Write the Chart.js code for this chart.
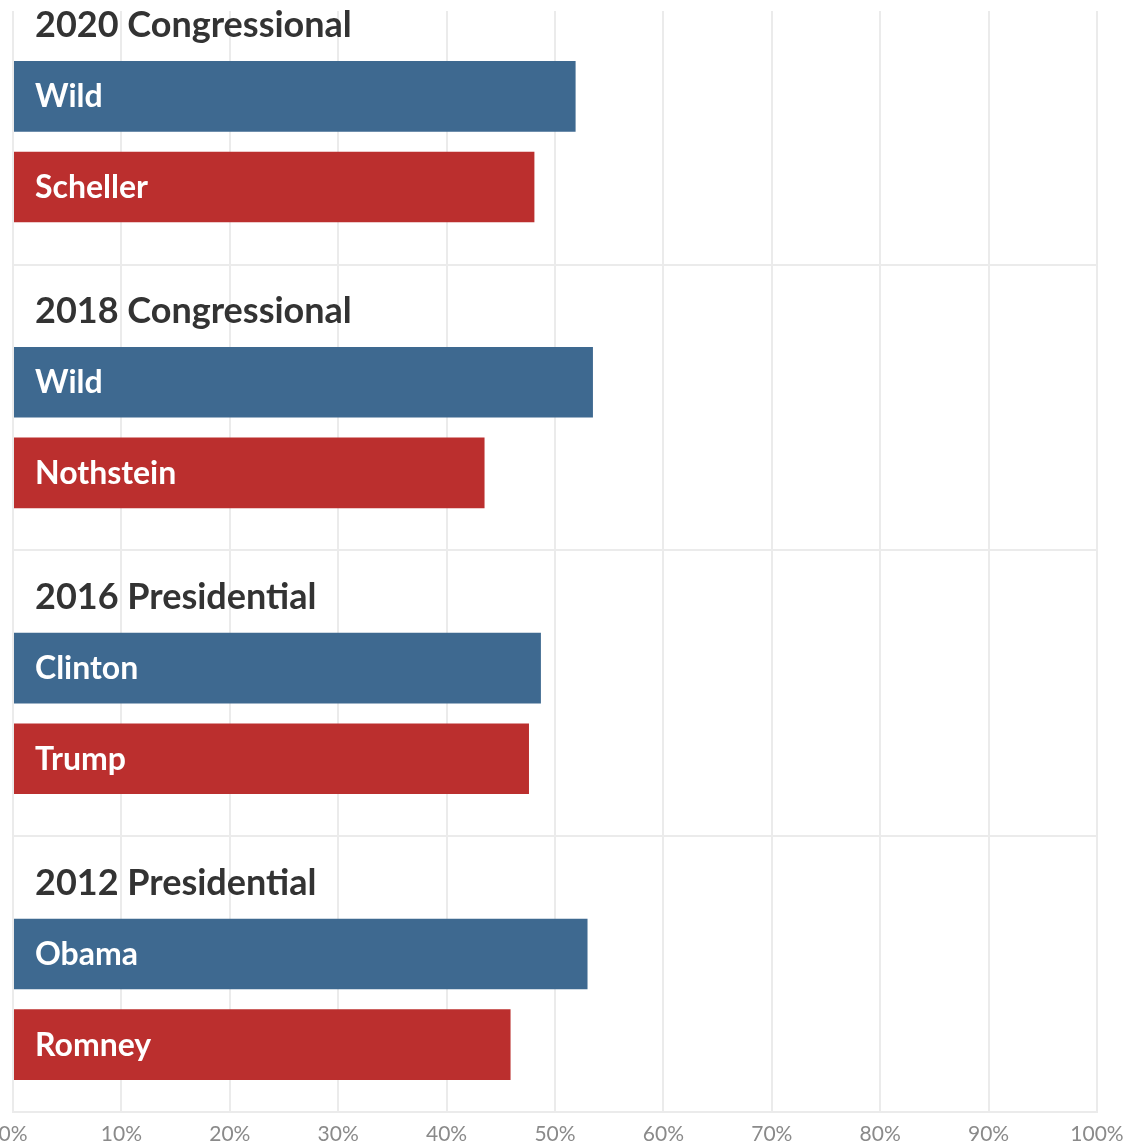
<!DOCTYPE html>
<html>
<head>
<meta charset="utf-8">
<script src="https://cdn.jsdelivr.net/npm/chart.js@4"></script>
<style>
  body { margin: 0; background: #fff; }
  #wrap { width: 1125px; height: 1144px; }
</style>
</head>
<body>
<div id="wrap"><canvas id="chart" width="1125" height="1144"></canvas></div>
<script>
const elections = ['2020 Congressional', '2018 Congressional', '2016 Presidential', '2012 Presidential'];
const demNames = ['Wild', 'Wild', 'Clinton', 'Obama'];
const repNames = ['Scheller', 'Nothstein', 'Trump', 'Romney'];
const demShare = [51.9, 53.5, 48.7, 53.0];
const repShare = [48.1, 43.5, 47.6, 45.9];
const xTicks = [0, 10, 20, 30, 40, 50, 60, 70, 80, 90, 100];

const gridColor = '#ebebeb';

// group names and candidate names drawn on top of the bars
const labelPlugin = {
    id: 'groupLabels',
    afterDatasetsDraw(chart) {
        const ctx = chart.ctx;
        const x0 = chart.scales.x.getPixelForValue(0);
        ctx.save();
        ctx.textAlign = 'left';
        ctx.textBaseline = 'alphabetic';
        ctx.font = 'bold 32px Lato';
        ctx.fillStyle = '#ffffff';
        chart.data.datasets.forEach((ds, di) => {
            chart.getDatasetMeta(di).data.forEach((bar, i) => {
                ctx.fillText(ds.names[i], x0 + 22, bar.y + 11);
            });
        });
        ctx.font = 'bold 36px Lato';
        ctx.fillStyle = '#333333';
        chart.getDatasetMeta(0).data.forEach((bar, i) => {
            ctx.fillText(elections[i], x0 + 22, bar.y - bar.height / 2 - 24);
        });
        ctx.restore();
    }
};

new Chart('chart', {
    type: 'bar',
    data: {
        datasets: [
            {
                label: 'Democrat',
                names: demNames,
                backgroundColor: '#3e6990',
                data: demShare.map((v, i) => ({ x: v, y: i }))
            },
            {
                label: 'Republican',
                names: repNames,
                backgroundColor: '#bb2f2e',
                data: repShare.map((v, i) => ({ x: v, y: i }))
            }
        ]
    },
    options: {
        indexAxis: 'y',
        responsive: false,
        animation: false,
        categoryPercentage: 0.634,
        barPercentage: 0.779,
        layout: {
            padding: { top: 11, left: 13, right: 28, bottom: 0 }
        },
        plugins: {
            legend: { display: false },
            title: { display: false },
            tooltip: { enabled: false }
        },
        scales: {
            x: {
                type: 'linear',
                min: 0,
                max: 100,
                afterBuildTicks: scale => { scale.ticks = xTicks.map(v => ({ value: v })); },
                afterFit: scale => {
                    scale.height = 32;
                    scale.paddingLeft = 0;
                    scale.paddingRight = 0;
                },
                grid: { color: gridColor, lineWidth: 2, drawTicks: false },
                border: { display: true, color: gridColor, width: 2 },
                ticks: {
                    padding: 10,
                    color: '#8a8a8a',
                    font: { family: 'Lato', size: 21 },
                    callback: v => v + '%'
                }
            },
            y: {
                type: 'linear',
                reverse: true,
                offset: false,
                min: -0.457,
                max: 3.394,
                // separators sit just above each group title
                afterBuildTicks: scale => { scale.ticks = [1, 2, 3].map(i => ({ value: i - 0.57 })); },
                afterFit: scale => { scale.width = 0; },
                grid: { color: gridColor, lineWidth: 2, drawTicks: false, offset: false },
                border: { display: false },
                ticks: { display: false }
            }
        }
    },
    plugins: [labelPlugin]
});
</script>
</body>
</html>
